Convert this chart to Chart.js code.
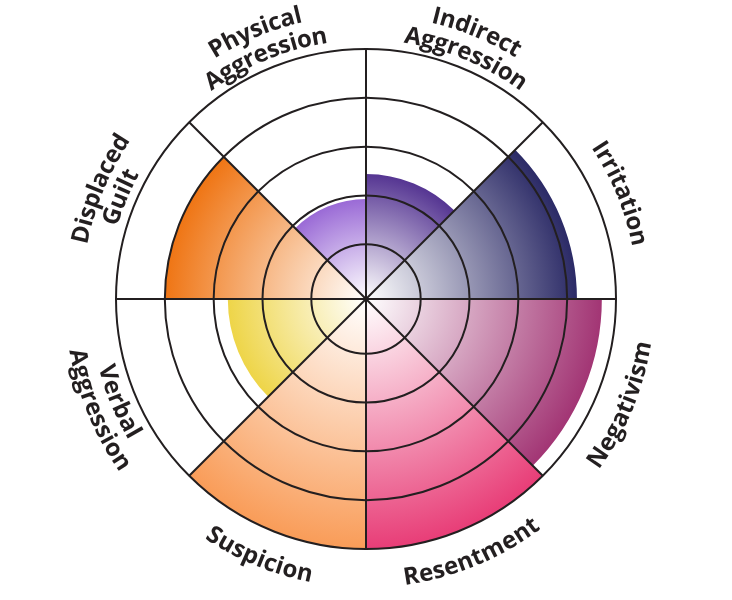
<!DOCTYPE html>
<html>
<head>
<meta charset="utf-8">
<script src="https://cdn.jsdelivr.net/npm/chart.js@4.4.1/dist/chart.umd.min.js"></script>
<style>
  html, body { margin: 0; padding: 0; background: #fff; }
  #wrap { width: 732px; height: 600px; position: relative; }
</style>
</head>
<body>
<div id="wrap"><canvas id="polarChart"></canvas></div>
<script>
// clockwise from the top
const categories = [
    ['Indirect', 'Aggression'],
    'Irritation',
    'Negativism',
    'Resentment',
    'Suspicion',
    ['Verbal', 'Aggression'],
    ['Displaced', 'Guilt'],
    ['Physical', 'Aggression']
];
const scores = [2.44, 4.2, 4.71, 5, 5, 2.71, 4, 1.93];
const colors = ['#553592', '#2b2a66', '#a23574', '#e83d77', '#f99c58', '#eed548', '#ef7514', '#9a6ad6'];
const ringTicks = [1, 2, 3, 4, 5];

const ink = '#231f20';

// white in the middle, full colour at the edge of each wedge
function wedgeFill(c) {
    const chart = c.chart;
    const r = chart.scales.r;
    const col = colors[c.dataIndex];
    if (!chart.chartArea || !r || !r.drawingArea) return col;
    const outer = r.getDistanceFromCenterForValue(scores[c.dataIndex]);
    const g = chart.ctx.createRadialGradient(r.xCenter, r.yCenter, 0, r.xCenter, r.yCenter, Math.max(outer, 1));
    g.addColorStop(0, '#ffffff');
    g.addColorStop(1, col);
    return g;
}

// labels bent along the circle
const arcLabels = {
    id: 'arcLabels',
    afterDraw(chart) {
        const r = chart.scales.r;
        const ctx = chart.ctx;
        const cx = r.xCenter, cy = r.yCenter;
        const Rc = 280, lineH = 25, capH = 17;
        const n = categories.length;
        ctx.save();
        ctx.font = 'bold 24px "Open Sans"';
        ctx.fillStyle = ink;
        ctx.textAlign = 'center';
        ctx.textBaseline = 'alphabetic';
        categories.forEach((lab, i) => {
            const lines = Array.isArray(lab) ? lab : [lab];
            const theta = (i + 0.5) * 360 / n; // from top, clockwise
            const phi = (theta - 90) * Math.PI / 180;
            const upper = theta < 90 || theta > 270;
            lines.forEach((txt, k) => {
                const y = (k - (lines.length - 1) / 2) * lineH + capH / 2;
                const base = upper ? Rc - y : Rc + y;
                const mid = upper ? base + 6 : base - 6;
                const w = ctx.measureText(txt).width;
                let x = 0;
                for (const ch of txt) {
                    const cw = ctx.measureText(ch).width;
                    const off = (x + cw / 2 - w / 2) / mid;
                    const a = upper ? phi + off : phi - off;
                    ctx.save();
                    ctx.translate(cx + base * Math.cos(a), cy + base * Math.sin(a));
                    ctx.rotate(upper ? a + Math.PI / 2 : a - Math.PI / 2);
                    ctx.fillText(ch, 0, 0);
                    ctx.restore();
                    x += cw;
                }
            });
        });
        ctx.restore();
    }
};

const chart1 = new Chart(document.getElementById('polarChart'), {
    type: 'polarArea',
    data: {
        labels: categories,
        datasets: [{
            data: scores,
            backgroundColor: wedgeFill,
            borderWidth: 0
        }]
    },
    options: {
        responsive: true,
        maintainAspectRatio: false,
        animation: false,
        layout: { padding: { top: 49, bottom: 51, left: 0, right: 0 } },
        plugins: {
            legend: { display: false },
            tooltip: { enabled: false }
        },
        scales: {
            r: {
                min: -0.12,
                max: 5,
                ticks: { display: false, stepSize: 1 },
                afterBuildTicks: (s) => {
                    s.ticks = [{ value: s.min }].concat(ringTicks.map(v => ({ value: v })));
                },
                grid: { circular: true, color: ink, lineWidth: 2, z: 1 },
                angleLines: { display: true, color: ink, lineWidth: 2 },
                pointLabels: { display: false }
            }
        }
    },
    plugins: [arcLabels]
});
</script>
</body>
</html>
